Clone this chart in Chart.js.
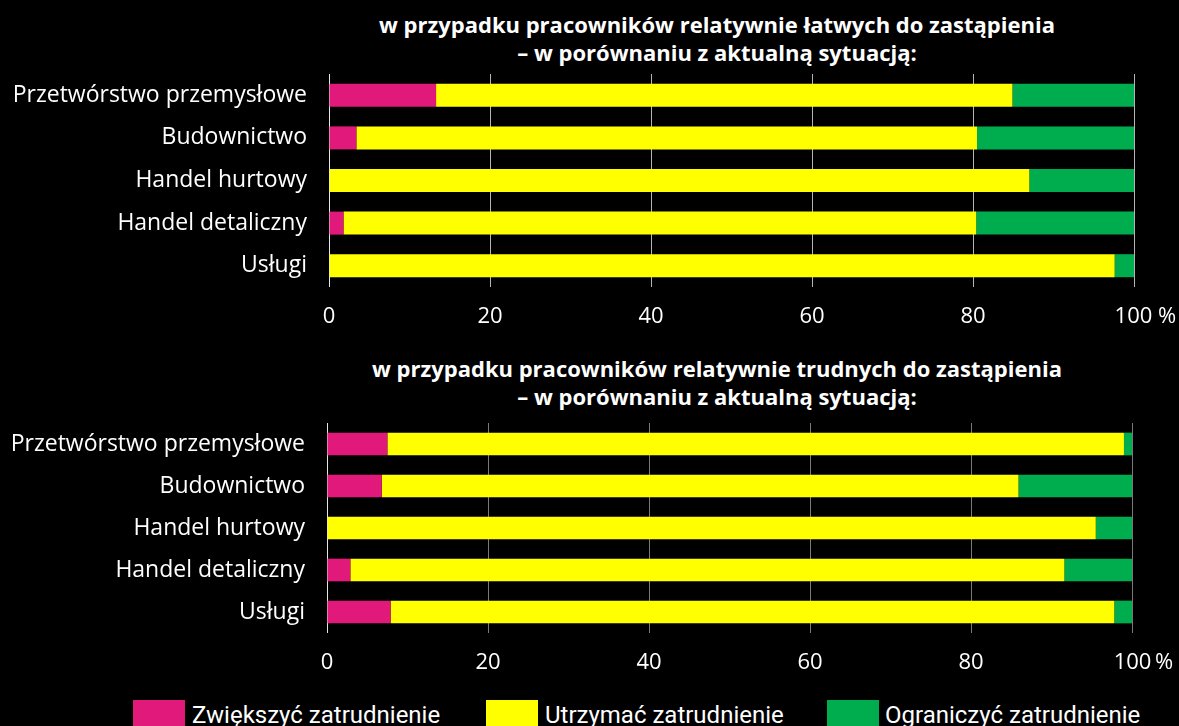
<!DOCTYPE html>
<html lang="pl">
<head>
<meta charset="utf-8">
<title>Zatrudnienie</title>
<script src="https://cdn.jsdelivr.net/npm/chart.js@4/dist/chart.umd.min.js"></script>
<style>
  html, body { margin: 0; padding: 0; background: #000; overflow: hidden; }
  body { width: 1179px; height: 726px; position: relative; font-family: "Open Sans", sans-serif; color: #fff; }
  .box { position: absolute; left: 0; width: 1179px; }
  .title { position: absolute; left: 317px; width: 800px; text-align: center; font-weight: bold; font-size: 22px; line-height: 28px; white-space: nowrap; }
  .legend { position: absolute; top: 700px; left: 0; width: 1179px; height: 40px; }
  .legend span { position: absolute; top: 0; height: 40px; font-family: Roboto, sans-serif; font-size: 24px; line-height: 30px; white-space: nowrap; }
  .legend i { position: absolute; top: 0; width: 52px; height: 40px; }
</style>
</head>
<body>
<div class="title" style="top:10px">w przypadku pracowników relatywnie łatwych do zastąpienia<br>– w porównaniu z aktualną sytuacją:</div>
<div class="box" style="top:0; height:340px"><canvas id="chartTop"></canvas></div>
<div class="title" style="top:354px">w przypadku pracowników relatywnie trudnych do zastąpienia<br>– w porównaniu z aktualną sytuacją:</div>
<div class="box" style="top:340px; height:345px"><canvas id="chartBottom"></canvas></div>
<div class="legend" id="legend"></div>

<script>
// kategorie (od góry)
const categories = ['Przetwórstwo przemysłowe', 'Budownictwo', 'Handel hurtowy', 'Handel detaliczny', 'Usługi'];
const seriesNames = ['Zwiększyć zatrudnienie', 'Utrzymać zatrudnienie', 'Ograniczyć zatrudnienie'];
const seriesColors = ['#e0197b', '#ffff00', '#00ad4e'];

// pracownicy relatywnie łatwi do zastąpienia (%)
const easyIncrease = [13.3, 3.4, 0, 1.8, 0];
const easyKeep     = [71.6, 77.1, 87.0, 78.6, 97.6];
const easyReduce   = [15.1, 19.5, 13.0, 19.6, 2.4];

// pracownicy relatywnie trudni do zastąpienia (%)
const hardIncrease = [7.5, 6.8, 0, 2.9, 7.9];
const hardKeep     = [91.5, 79.1, 95.5, 88.7, 89.9];
const hardReduce   = [1.0, 14.1, 4.5, 8.4, 2.2];

const xTicks = [0, 20, 40, 60, 80, 100];

function makeChart(canvasId, series, opts) {
    const ctx = document.getElementById(canvasId);
    return new Chart(ctx, {
        type: 'bar',
        data: {
            labels: categories,
            datasets: series.map((values, i) => ({
                label: seriesNames[i],
                data: values,
                backgroundColor: seriesColors[i],
                borderWidth: 0,
                categoryPercentage: 0.54,
                barPercentage: 1
            }))
        },
        options: {
            indexAxis: 'y',
            responsive: true,
            maintainAspectRatio: false,
            animation: false,
            layout: { padding: { top: opts.top, right: opts.right, left: 0, bottom: 0 } },
            plugins: { legend: { display: false }, title: { display: false }, tooltip: { enabled: false } },
            scales: {
                x: {
                    stacked: true,
                    min: 0,
                    max: 100,
                    afterBuildTicks: scale => { scale.ticks = xTicks.map(v => ({ value: v })); },
                    afterFit: scale => {
                        scale.height = opts.axisHeight;
                        // szerokość obszaru wykresu ustala tylko layout.padding
                        scale.paddingLeft = 0;
                        scale.paddingRight = 0;
                    },
                    ticks: {
                        color: '#fff',
                        padding: 17,
                        maxRotation: 0,
                        font: { family: 'Open Sans', size: 22 },
                        // "100" ma stać na linii, a znak % wystaje w prawo
                        callback: v => v === 100 ? '    ' + opts.lastLabel : v
                    },
                    grid: {
                        color: ctx => ctx.tick && ctx.tick.value === 0 ? '#e6e6e6' : opts.gridColor,
                        lineWidth: 1,
                        drawTicks: false
                    },
                    border: { display: false }
                },
                y: {
                    stacked: true,
                    afterFit: scale => { scale.width = opts.left; },
                    ticks: {
                        color: '#fff',
                        padding: 22,
                        font: { family: 'Open Sans', size: 23 }
                    },
                    grid: { display: false, drawTicks: false },
                    border: { display: false }
                }
            }
        }
    });
}

makeChart('chartTop', [easyIncrease, easyKeep, easyReduce], {
    top: 74, right: 45, left: 329, axisHeight: 53, gridColor: '#b4b4b4', lastLabel: '100 %'
});
makeChart('chartBottom', [hardIncrease, hardKeep, hardReduce], {
    top: 83, right: 47, left: 327, axisHeight: 52, gridColor: '#7a7a7a', lastLabel: '100\u2009%'
});

// legenda
const legendPos = [[133, 192], [486, 545], [827, 885]];
const legend = document.getElementById('legend');
seriesNames.forEach((name, i) => {
    const box = document.createElement('i');
    box.style.left = legendPos[i][0] + 'px';
    box.style.background = seriesColors[i];
    const txt = document.createElement('span');
    txt.style.left = legendPos[i][1] + 'px';
    txt.textContent = name;
    legend.appendChild(box);
    legend.appendChild(txt);
});
</script>
</body>
</html>
